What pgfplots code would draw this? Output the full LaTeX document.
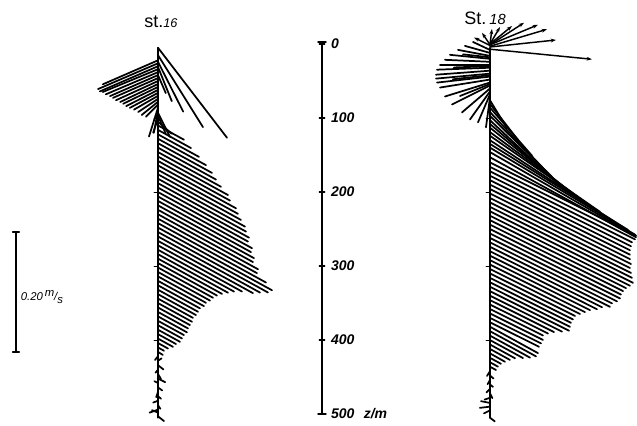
\documentclass[border=0pt]{standalone}
\usepackage{fontspec}
\setmainfont{Liberation Sans}
\usepackage{pgfplots}
\pgfplotsset{compat=1.18}
\usepackage{pgfplotstable}
\usetikzlibrary{arrows.meta}

% current vectors: depth d (m), east u and north v (cm/s)
\pgfplotstableread{
d u v
5 11.5 -15.0
15 7.5 -12.0
24 4.2 -8.3
31 2.3 -5.7
42 1.3 -3.0
22 -9.2 -4.0
26 -10.0 -4.3
30 -9.7 -4.2
34 -9.2 -3.8
38 -8.7 -3.7
42 -8.0 -3.5
46 -7.5 -3.3
50 -7.0 -3.2
54 -6.3 -3.0
58 -5.8 -2.8
62 -5.3 -2.7
66 -4.7 -2.5
70 -4.0 -2.3
74 -3.3 -2.2
78 -2.7 -2.2
82 -2.0 -2.0
86 -1.5 -4.8
90 -0.7 -3.7
93 2.0 -4.0
97 1.3 -3.0
101 -0.8 -2.3
105 2.3 -2.0
110 4.33 -2.38
116 5.5 -3.03
122 6.83 -3.76
128 8.0 -4.40
134 9.0 -4.95
140 9.67 -5.32
146 10.5 -5.78
152 11.67 -6.42
158 12.0 -6.6
164 13.0 -7.15
170 13.33 -7.33
176 13.83 -7.61
182 14.5 -7.98
188 14.67 -8.07
194 15.17 -8.34
200 15.0 -8.25
206 15.67 -8.62
212 15.5 -8.53
218 16.0 -8.8
224 15.83 -8.71
230 16.67 -9.17
236 16.5 -9.08
242 18.0 -9.9
248 19.0 -10.45
254 18.33 -10.08
260 17.0 -9.35
266 15.83 -8.71
272 14.0 -7.7
278 12.67 -6.97
284 11.67 -6.42
290 10.67 -5.87
296 9.83 -5.41
302 9.17 -5.04
308 8.67 -4.77
314 8.0 -4.4
320 7.67 -4.22
326 7.0 -3.85
332 6.67 -3.67
338 6.33 -3.48
344 5.83 -3.21
350 5.67 -3.12
356 5.33 -2.93
362 5.0 -2.75
368 4.83 -2.66
374 4.33 -2.38
380 4.0 -2.2
386 3.67 -2.02
392 3.0 -1.65
398 2.5 -1.38
404 1.67 -0.92
410 1.0 -0.55
416 0.8 -0.5
422 -0.5 -0.6
428 0.6 0.4
434 0.9 -0.7
440 -0.4 -0.5
446 0.5 -0.8
452 1.2 -0.6
458 -0.6 0.3
464 0.7 -0.5
470 -0.3 -0.9
476 0.5 -0.4
482 -0.8 -0.3
488 0.4 -0.6
494 -1.4 -0.5
498 -1.0 0.4
503 1.0 -0.8
}\stsixteen

\pgfplotstableread{
d u v
7 17.0 -1.67
4 11.0 1.17
3 9.5 2.83
1 8.0 3.33
1 5.67 3.67
0 3.67 3.0
0 1.67 2.83
0 0.33 2.5
1 -1.33 2.0
2 -2.67 1.33
}\steighteentop

\pgfplotstableread{
d u v
8 -2.83 1.33
12 -4.17 1.17
16 -5.33 1.0
20 -6.67 0.67
24 -7.5 0.33
28 -8.33 0
32 -8.83 -0.33
36 -9.0 -0.67
40 -9.0 -0.83
44 -8.83 -1.0
48 -8.33 -1.33
52 -7.5 -2.33
56 -6.33 -3.17
60 -4.67 -4.0
64 -3.33 -4.67
68 -2.0 -4.67
72 -0.67 -5.0
18 -4.5 0.5
30 -6.0 -0.2
42 -6.2 -0.7
54 -5.0 -2.0
76 2.83 -4.67
81 4.67 -6.0
86 7.0 -8.0
92 9.17 -9.67
97 10.33 -10.17
103 12.5 -11.67
108 12.0 -10.33
113 13.33 -10.67
119 15.83 -11.67
124 18.33 -12.67
130 20.83 -13.67
135 23.0 -14.33
140 24.17 -14.5
146 24.33 -14.0
153 24.33 -13.33
160 24.33 -12.17
166 24.17 -12.08
172 23.67 -11.83
178 23.5 -11.75
184 23.33 -11.67
190 23.33 -11.67
196 23.33 -11.67
202 23.5 -11.75
208 23.33 -11.67
214 23.5 -11.75
220 23.67 -11.83
226 23.83 -11.92
232 23.33 -11.67
238 22.67 -11.33
244 22.17 -11.08
250 21.83 -10.92
256 21.67 -10.83
262 21.17 -10.58
268 20.33 -10.17
274 20.0 -10.0
280 18.67 -9.33
286 17.83 -8.92
292 16.67 -8.33
298 15.83 -7.92
304 15.0 -7.5
310 14.17 -7.08
316 13.83 -6.92
322 13.5 -6.75
328 13.33 -6.67
334 13.17 -6.58
340 12.0 -6.0
346 10.67 -5.33
352 9.67 -4.83
358 8.83 -4.42
364 8.83 -4.42
370 8.5 -4.25
376 8.17 -4.08
382 8.0 -4.4
388 7.67 -4.2
394 6.67 -3.67
400 5.5 -3.0
406 4.17 -2.3
412 3.33 -1.83
418 2.5 -1.4
424 1.83 -1.0
430 1.33 -0.73
436 1.0 -0.55
442 -0.5 -0.8
448 0.6 -0.5
454 -0.4 -0.7
460 0.5 -0.4
466 -0.6 -0.6
472 0.4 -0.8
478 -0.9 -0.3
485 -1.5 0.3
490 -1.7 -0.2
495 -1.0 -0.5
505 0.8 -0.6
}\steighteen

\begin{document}
\begin{tikzpicture}
\begin{axis}[
    x=4.5pt, y=0.555pt, y dir=reverse,
    xmin=-26.33, xmax=79.83, ymin=-59.5, ymax=514.9,
    hide axis, clip=false,
    every axis plot/.append style={black, line cap=round},
    every node near coord/.append style={anchor=west, xshift=3pt,
        font=\fontsize{10.5}{12}\selectfont\bfseries\itshape},
    ]
    \path (rel axis cs:0,0) rectangle (rel axis cs:1,1);

    % station axes
    \addplot[line width=1.4pt, mark=none] coordinates {(0,5) (0,505)};
    \addplot[line width=1.4pt, mark=none] coordinates {(55.33,5) (55.33,505)};
    \addplot[only marks, mark=-, mark size=1.5pt, line width=0.8pt]
        coordinates {(-0.3,100) (-0.3,200) (-0.3,300) (-0.3,400)
                     (55.03,100) (55.03,200) (55.03,300) (55.03,400)};

    % vectors, st.16
    \addplot[line width=1.3pt, mark=none,
        quiver={u=\thisrow{u}, v=-8.108*\thisrow{v}}]
        table[x expr=0, y=d] {\stsixteen};

    % vectors, st.18
    \addplot[line width=1.1pt, mark=none, -{Stealth[length=4pt,width=2.8pt]},
        quiver={u=\thisrow{u}, v=-8.108*\thisrow{v}}]
        table[x expr=55.33, y=d] {\steighteentop};
    \addplot[line width=1.3pt, mark=none,
        quiver={u=\thisrow{u}, v=-8.108*\thisrow{v}}]
        table[x expr=55.33, y=d] {\steighteen};

    % depth axis
    \addplot[line width=1.4pt, mark=none] coordinates {(27.33,-3) (27.33,500)};
    \addplot[only marks, mark=-, mark size=3pt, line width=1.1pt]
        coordinates {(27.33,-3) (27.33,500)};
    \addplot[only marks, mark=-, mark size=2pt, line width=1.1pt,
        nodes near coords, point meta=explicit symbolic]
        coordinates {(27.33,0) [0] (27.33,100) [100] (27.33,200) [200]
                     (27.33,300) [300] (27.33,400) [400]
                     (27.33,500) [{500\hspace{7pt}z/m}]};

    % scale bar 0.20 m/s
    \addplot[line width=1.1pt, mark=-, mark size=2.5pt]
        coordinates {(-23.67,254) (-23.67,416)};

    \node[font=\fontsize{13.5}{15}\selectfont] at (axis cs:0.5,-30)
        {st.\fontsize{9.5}{10}\selectfont\itshape 16};
    \node[font=\fontsize{13.5}{15}\selectfont] at (axis cs:54.5,-35)
        {St.\,\fontsize{11}{12}\selectfont\itshape 18};
    \node[anchor=west, font=\fontsize{8.5}{10}\selectfont\itshape, inner sep=0pt]
        at (axis cs:-22.9,342)
        {0.20\,\raisebox{3pt}{\fontsize{8.5}{10}\selectfont m}/\raisebox{-2pt}{\fontsize{8.5}{10}\selectfont s}};
\end{axis}
\end{tikzpicture}
\end{document}
